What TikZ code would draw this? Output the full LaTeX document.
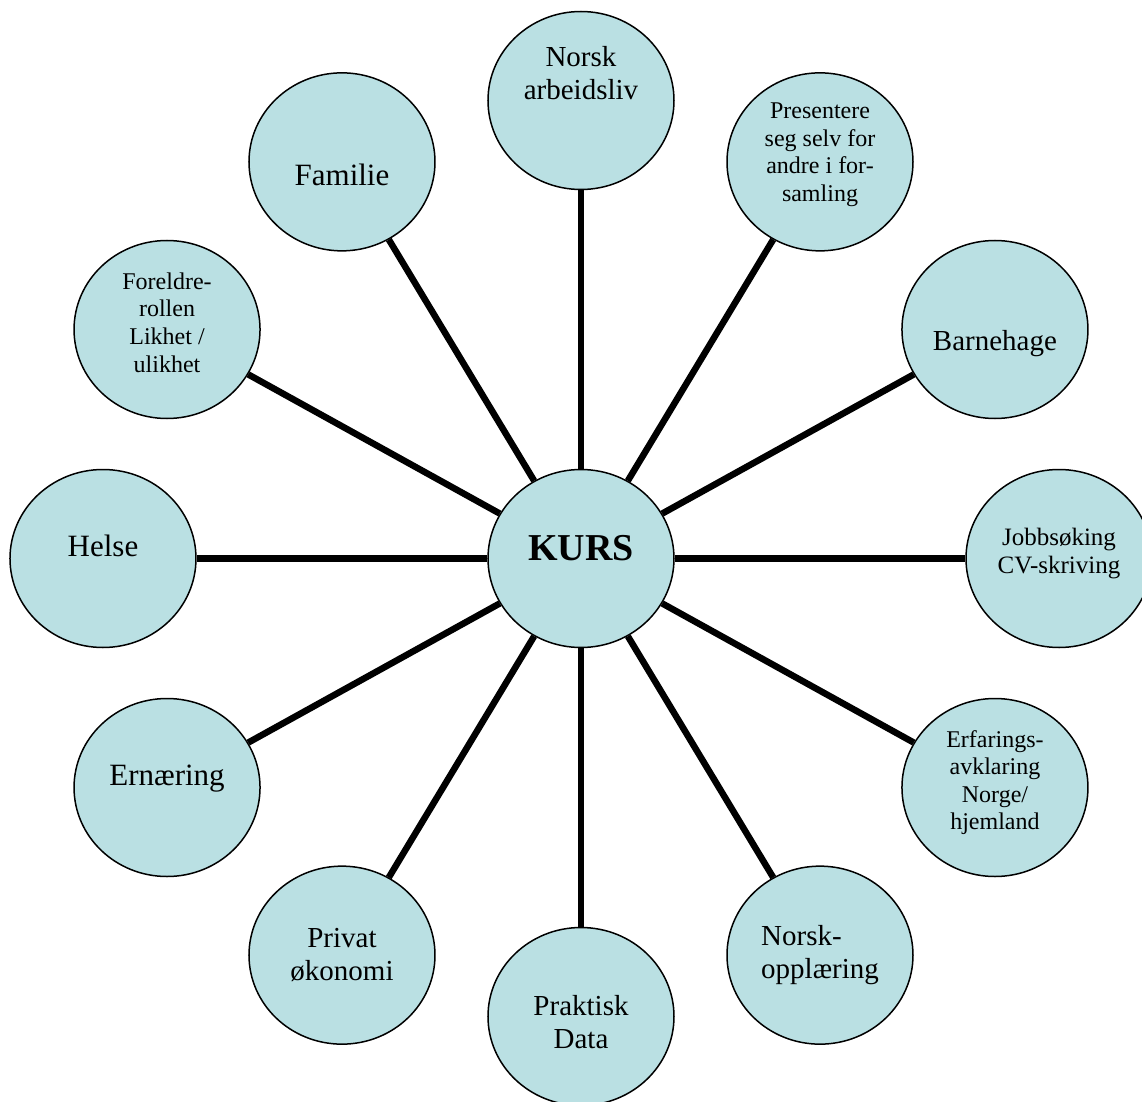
\documentclass[tikz,border=0pt]{standalone}
\usepackage{fontspec}
\setmainfont{Liberation Serif}
\usetikzlibrary{shapes.geometric}
\definecolor{bubblefill}{RGB}{186,224,227}

\begin{document}
\begin{tikzpicture}[
		x=1pt, y=1pt,
		bubble/.style={
			ellipse,
			draw,
			line width=1.5pt,
			fill=bubblefill,
			minimum width=186pt,
			minimum height=178pt,
			inner sep=0pt
		},
		spoke/.style={line width=6.5pt},
		bigtxt/.style={align=center, font=\fontsize{31}{35.5}\selectfont},
		midtxt/.style={align=center, font=\fontsize{29}{33}\selectfont},
		smalltxt/.style={align=center, font=\fontsize{24}{27.6}\selectfont}
		]
		\useasboundingbox (-581,-542.5) rectangle (561,558.5);
		
		\node[bubble, label={[font=\fontsize{38}{44}\selectfont\bfseries, yshift=10pt]center:KURS}] (kurs) at (0,0) {};
		
		\node[bubble, label={[midtxt, yshift=27pt]center:{Norsk\\arbeidsliv}}] (arbeidsliv) at (90:478pt and 458pt) {};
		
		\node[bubble, label={[smalltxt, yshift=7pt]center:{Presentere\\seg selv for\\andre i for-\\samling}}] (presentere) at (60:478pt and 458pt) {};
		
		\node[bubble, label={[midtxt, yshift=-14pt]center:Barnehage}] (barnehage) at (30:478pt and 458pt) {};
		
		\node[bubble, label={[smalltxt, font=\fontsize{25}{27.5}\selectfont, yshift=5pt]center:{Jobbsøking\\CV-skriving}}] (jobb) at (0:478pt and 458pt) {};
		
		\node[bubble, label={[smalltxt, yshift=5pt]center:{Erfarings-\\avklaring\\Norge/\\hjemland}}] (erfaring) at (-30:478pt and 458pt) {};
		
		\node[bubble, label={[midtxt, align=left]center:{Norsk-\\opplæring}}] (opplaering) at (-60:478pt and 458pt) {};
		
		\node[bubble, label={[midtxt, yshift=-6pt]center:{Praktisk\\Data}}] (data) at (-90:478pt and 458pt) {};
		
		\node[bubble, label={[midtxt]center:{Privat\\økonomi}}] (okonomi) at (-120:478pt and 458pt) {};
		
		\node[bubble, label={[bigtxt, yshift=9pt]center:Ernæring}] (ernaering) at (-150:478pt and 458pt) {};
		
		\node[bubble, label={[bigtxt, yshift=13pt]center:Helse}] (helse) at (180:478pt and 458pt) {};
		
		\node[bubble, label={[smalltxt, yshift=7pt]center:{Foreldre-\\rollen\\Likhet /\\ulikhet}}] (foreldre) at (150:478pt and 458pt) {};
		
		\node[bubble, label={[bigtxt, yshift=-13pt]center:Familie}] (familie) at (120:478pt and 458pt) {};
		
		\draw[spoke] (kurs)--(arbeidsliv);
		\draw[spoke] (kurs)--(presentere);
		\draw[spoke] (kurs)--(barnehage);
		\draw[spoke] (kurs)--(jobb);
		\draw[spoke] (kurs)--(erfaring);
		\draw[spoke] (kurs)--(opplaering);
		\draw[spoke] (kurs)--(data);
		\draw[spoke] (kurs)--(okonomi);
		\draw[spoke] (kurs)--(ernaering);
		\draw[spoke] (kurs)--(helse);
		\draw[spoke] (kurs)--(foreldre);
		\draw[spoke] (kurs)--(familie);
		
	\end{tikzpicture}
\end{document}
